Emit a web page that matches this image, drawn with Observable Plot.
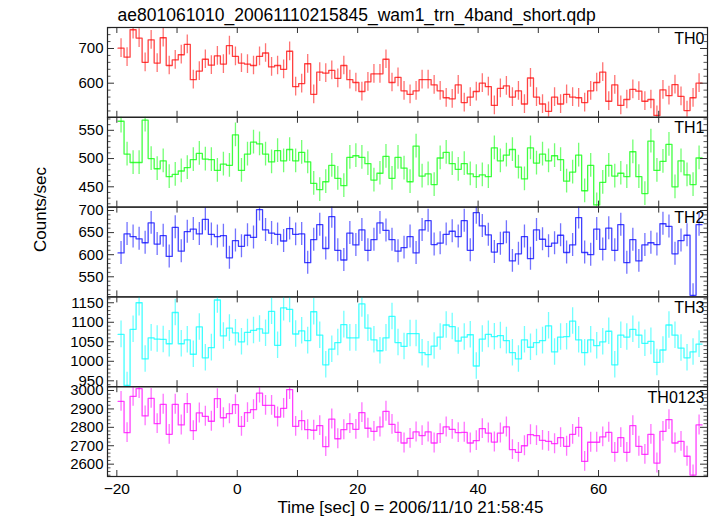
<!DOCTYPE html>
<html><head><meta charset="utf-8">
<script src="https://cdn.jsdelivr.net/npm/d3@7"></script>
<script src="https://cdn.jsdelivr.net/npm/@observablehq/plot@0.6"></script>
<style>
body{margin:0;background:#fff}
#chart{position:relative;width:717px;height:516px;}
#chart svg{position:absolute;left:0;top:0;}
</style>
</head><body><div id="chart"></div>
<script>
const times = [-19.3,-18.3,-17.3,-16.3,-15.3,-14.3,-13.3,-12.3,-11.3,-10.3,
  -9.3,-8.3,-7.3,-6.3,-5.3,-4.3,-3.3,-2.3,-1.3,-0.3,
  0.7,1.7,2.7,3.7,4.7,5.7,6.7,7.7,8.7,9.7,
  10.7,11.7,12.7,13.7,14.7,15.7,16.7,17.7,18.7,19.7,
  20.7,21.7,22.7,23.7,24.7,25.7,26.7,27.7,28.7,29.7,
  30.7,31.7,32.7,33.7,34.7,35.7,36.7,37.7,38.7,39.7,
  40.7,41.7,42.7,43.7,44.7,45.7,46.7,47.7,48.7,49.7,
  50.7,51.7,52.7,53.7,54.7,55.7,56.7,57.7,58.7,59.7,
  60.7,61.7,62.7,63.7,64.7,65.7,66.7,67.7,68.7,69.7,
  70.7,71.7,72.7,73.7,74.7,75.7,76.7];

const th0 = [701,675,754,730,660,725,658,731,651,667,
  682,712,610,635,669,652,679,655,708,677,
  658,655,651,677,687,647,651,640,692,590,
  599,656,568,632,629,637,614,651,610,602,
  576,604,627,627,669,602,617,578,568,578,
  610,610,595,578,558,555,595,544,560,576,
  600,590,536,585,592,560,578,540,615,560,
  540,519,560,540,568,560,558,544,578,602,
  632,548,595,536,553,582,577,548,553,507,
  581,564,596,562,521,558,600];

const th1 = [566,508,493,493,568,500,482,496,468,472,
  478,484,498,509,499,498,479,490,488,542,
  479,508,529,526,508,494,514,496,516,496,
  511,494,456,445,459,488,465,452,502,505,
  502,491,462,474,504,465,502,483,459,522,
  469,473,454,501,511,491,481,491,473,468,
  471,468,519,496,506,516,485,464,519,492,
  508,496,505,498,460,476,506,443,488,418,
  458,488,469,474,468,512,468,438,531,479,
  495,525,450,496,471,454,501];

const th2 = [604,647,641,636,627,672,624,643,596,662,
  608,652,658,647,680,646,641,643,593,632,
  619,644,639,702,656,649,646,631,659,646,
  647,582,634,668,614,686,610,588,649,622,
  656,610,634,672,655,634,608,616,641,604,
  656,677,623,626,646,653,641,677,610,695,
  665,645,606,625,651,586,602,641,591,656,
  635,619,626,644,605,622,684,605,600,658,
  612,660,610,668,582,634,586,622,627,623,
  670,664,602,632,644,508,668];

const th3 = [1069,938,1082,1150,1006,1060,1057,1056,1045,1125,
  1045,1055,1018,1088,1009,1035,1157,1065,1085,1073,
  1050,1074,1079,1083,1072,1128,1041,1137,1133,1070,
  1078,1053,1127,1067,991,1031,1048,1094,1060,1060,
  1147,1085,1055,1027,1060,1115,1048,1038,1071,1071,
  1022,1017,1039,1062,1093,1089,1052,1062,1068,988,
  1057,1069,1063,1066,1053,1022,1006,1055,1036,1048,
  1053,1091,1024,1062,1063,1103,1055,1022,1055,1040,
  1050,1077,991,1067,1062,1082,1067,1046,1051,997,
  1029,1093,1067,1034,1009,1024,1044];

const th0123 = [2941,2771,2968,3010,2862,2957,2820,2925,2762,2925,
  2813,2929,2782,2878,2860,2833,2956,2852,2874,2923,
  2805,2880,2896,2986,2919,2919,2856,2903,3005,2805,
  2836,2787,2784,2809,2695,2845,2738,2787,2820,2789,
  2880,2795,2778,2802,2887,2816,2773,2715,2740,2775,
  2755,2775,2715,2766,2802,2789,2771,2773,2715,2728,
  2793,2769,2720,2769,2802,2679,2664,2700,2760,2755,
  2729,2724,2711,2744,2697,2762,2800,2615,2719,2719,
  2748,2773,2664,2744,2664,2809,2697,2653,2762,2606,
  2778,2842,2715,2724,2643,2541,2813];

const panelNames = ["TH0","TH1","TH2","TH3","TH0123"];
const panelColors = ["#ff0000","#00ff00","#0000ff","#00ffff","#ff00ff"];
const panelErrors = [27,21,26,34,54];
const yDomains = [[501.7,760.5],[414.1,573],[504.5,707.7],[934.9,1165],[2533,3020.6]];
const yLabelTicks = [[600,700],[450,500,550],[550,600,650,700],[950,1000,1050,1100,1150],[2600,2700,2800,2900,3000]];
const yMinorStep = [20,10,10,10,20];
const xLabelTicks = [-20,0,20,40,60];
const xTicks = [-20,-10,0,10,20,30,40,50,60,70];
const xDomain = [-21.55,78.1];
const title = "ae801061010_20061110215845_wam1_trn_4band_short.qdp";
const xTitle = "Time [sec] 0 = 2006/11/10 21:58:45";
const yTitle = "Counts/sec";

const W = 717, H = 516, ML = 107, MR = 10, PH = 89.8, T0 = 27;
const PW = W - ML - MR;
const fmt = d => d < 0 ? "\u2212" + (-d) : String(d);
const series = [th0, th1, th2, th3, th0123];
const chart = document.getElementById("chart");
const font = "'Liberation Sans', Arial, Helvetica, sans-serif";

series.forEach((vals, i) => {
  const top = T0 + i * PH;
  const bottom = top + PH;
  const color = panelColors[i];
  const err = panelErrors[i];
  const rows = times.map((t, k) => ({t, v: vals[k]}));
  const stepPts = rows.flatMap(d => [{x: d.t - 0.5, y: d.v}, {x: d.t + 0.5, y: d.v}]);
  const [y0, y1] = yDomains[i];
  const major = yLabelTicks[i];
  const step = yMinorStep[i];
  const minor = d3.range(Math.ceil(y0 / step) * step, y1, step).filter(v => !major.includes(v));
  const marks = [
    Plot.ruleX(rows, {x: "t", y1: d => d.v - err, y2: d => d.v + err, stroke: color, strokeWidth: 1.3, strokeOpacity: 0.55, clip: true}),
    Plot.line(stepPts, {x: "x", y: "y", stroke: color, strokeWidth: 1.3, strokeOpacity: 0.75, clip: true}),
    Plot.tickX(xTicks, {x: d => d, insetTop: PH - 6, stroke: "#333"}),
    Plot.tickX(xTicks, {x: d => d, insetBottom: PH - 6, stroke: "#333"}),
    Plot.tickY(major, {y: d => d, insetRight: PW - 7, stroke: "#333"}),
    Plot.tickY(major, {y: d => d, insetLeft: PW - 7, stroke: "#333"}),
    Plot.tickY(minor, {y: d => d, insetRight: PW - 3.5, stroke: "#555"}),
    Plot.tickY(minor, {y: d => d, insetLeft: PW - 3.5, stroke: "#555"}),
    Plot.frame({stroke: "#222", strokeWidth: 1.2}),
    Plot.axisY(major, {anchor: "left", tickSize: 0, tickPadding: 4, tickFormat: fmt, label: null, fontSize: 15}),
    Plot.axisX(i === 4 ? xLabelTicks : [], {anchor: "bottom", tickSize: 0, tickPadding: 6, tickFormat: fmt, label: null, fontSize: 15.5}),
    Plot.text([panelNames[i]], {frameAnchor: "top-right", text: d => d, dx: -3, dy: 16, lineAnchor: "bottom", textAnchor: "end", fontSize: 16, fill: "black"})
  ];
  if (i === 0) marks.push(Plot.text([title], {frameAnchor: "top-left", text: d => d, dx: 10, dy: -7, lineAnchor: "bottom", textAnchor: "start", fontSize: 17.5, fill: "black"}));
  if (i === 2) marks.push(Plot.text([yTitle], {frameAnchor: "left", text: d => d, dx: -67, rotate: -90, fontSize: 17, fill: "black"}));
  if (i === 4) marks.push(Plot.text([xTitle], {frameAnchor: "bottom", text: d => d, dx: 3, dy: 36, lineAnchor: "bottom", fontSize: 17, fill: "black"}));

  const svg = Plot.plot({
    width: W, height: H,
    marginLeft: ML, marginRight: MR, marginTop: top, marginBottom: H - bottom,
    x: {domain: xDomain},
    y: {domain: [y0, y1]},
    style: {background: "transparent", fontFamily: font, fontSize: "15px", color: "black", overflow: "visible"},
    marks
  });
  chart.appendChild(svg);
});
</script>
</body></html>
